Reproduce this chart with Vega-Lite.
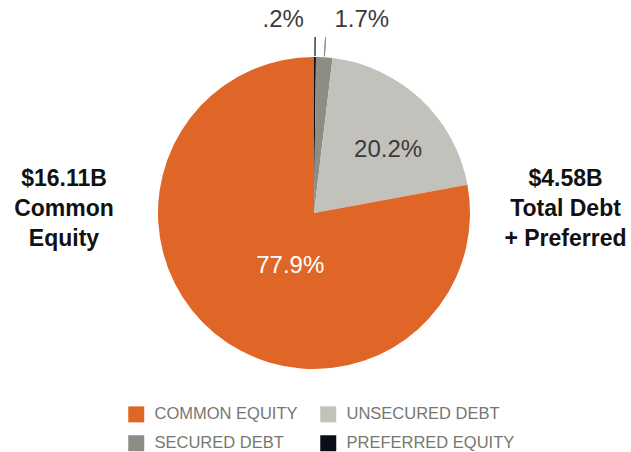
{
  "$schema": "https://vega.github.io/schema/vega-lite/v6.json",
  "padding": 0,
  "spacing": 0,
  "background": "white",
  "config": {
    "view": {"stroke": null},
    "font": "Liberation Sans",
    "concat": {"spacing": 0}
  },
  "datasets": {
    "slices": [
      {"category": "PREFERRED EQUITY", "pct": 0.2, "label": ".2%"},
      {"category": "SECURED DEBT", "pct": 1.7, "label": "1.7%"},
      {"category": "UNSECURED DEBT", "pct": 20.2, "label": "20.2%"},
      {"category": "COMMON EQUITY", "pct": 77.9, "label": "77.9%"}
    ],
    "left": [{"text": "$16.11B\nCommon\nEquity"}],
    "right": [{"text": "$4.58B\nTotal Debt\n+ Preferred"}]
  },
  "hconcat": [
    {
      "width": 128,
      "height": 426,
      "data": {"name": "left"},
      "mark": {"type": "text", "font": "Liberation Sans", "fontWeight": "bold", "fontSize": 23, "lineBreak": "\n", "lineHeight": 30, "fill": "#111111", "align": "center", "baseline": "middle", "dy": -34},
      "encoding": {"text": {"field": "text", "type": "nominal"}}
    },
    {
      "width": 372,
      "height": 426,
      "data": {"name": "slices"},
      "encoding": {
        "theta": {"field": "pct", "type": "quantitative", "stack": true},
        "order": {"field": "pct", "type": "quantitative", "sort": "ascending"}
      },
      "layer": [
        {
          "mark": {"type": "arc", "outerRadius": 156, "strokeWidth": 0},
          "encoding": {
            "color": {
              "field": "category",
              "type": "nominal",
              "scale": {
                "domain": ["COMMON EQUITY", "SECURED DEBT", "UNSECURED DEBT", "PREFERRED EQUITY"],
                "range": ["#E06628", "#8D8D85", "#C2C1BC", "#0B0E17"]
              },
              "legend": {
                "orient": "none",
                "legendX": 128,
                "legendY": 406,
                "title": null,
                "columns": 2,
                "columnPadding": 22,
                "rowPadding": 12,
                "symbolType": "square",
                "symbolSize": 256,
                "symbolStrokeWidth": 0,
                "labelFont": "Liberation Sans",
                "labelFontSize": 16.5,
                "labelColor": "#77776f",
                "labelOffset": 10,
                "labelLimit": 300
              }
            }
          }
        },
        {
          "mark": {"type": "arc", "radius": 157, "radius2": 176, "padAngle": 1, "strokeWidth": 1.2, "fillOpacity": 0},
          "encoding": {
            "stroke": {
              "condition": {"test": "datum.pct < 1", "value": "#0B0E17"},
              "value": "transparent"
            }
          }
        },
        {
          "mark": {"type": "arc", "radius": 157, "radius2": 176, "padAngle": 1, "strokeWidth": 1, "fillOpacity": 0},
          "encoding": {
            "stroke": {
              "condition": {"test": "datum.pct > 1 && datum.pct < 10", "value": "#8D8D85"},
              "value": "transparent"
            }
          }
        },
        {
          "mark": {"type": "text", "radius": 70, "dx": 21, "dy": -1, "fontSize": 24, "fill": "white"},
          "encoding": {
            "text": {"condition": {"test": "datum.pct > 50", "field": "label"}, "value": ""}
          }
        },
        {
          "mark": {"type": "text", "radius": 98, "dx": 7, "dy": 8, "fontSize": 24, "fill": "#3a3a3a"},
          "encoding": {
            "text": {"condition": {"test": "datum.pct > 10 && datum.pct < 50", "field": "label"}, "value": ""}
          }
        },
        {
          "mark": {"type": "text", "radius": 193, "dx": -32, "fontSize": 24, "fill": "#3a3a3a"},
          "encoding": {
            "text": {"condition": {"test": "datum.pct < 1", "field": "label"}, "value": ""}
          }
        },
        {
          "mark": {"type": "text", "radius": 193, "dx": 35, "fontSize": 24, "fill": "#3a3a3a"},
          "encoding": {
            "text": {"condition": {"test": "datum.pct > 1 && datum.pct < 10", "field": "label"}, "value": ""}
          }
        }
      ]
    },
    {
      "width": 131,
      "height": 426,
      "data": {"name": "right"},
      "mark": {"type": "text", "font": "Liberation Sans", "fontWeight": "bold", "fontSize": 23, "lineBreak": "\n", "lineHeight": 30, "fill": "#111111", "align": "center", "baseline": "middle", "dy": -34},
      "encoding": {"text": {"field": "text", "type": "nominal"}}
    }
  ]
}
